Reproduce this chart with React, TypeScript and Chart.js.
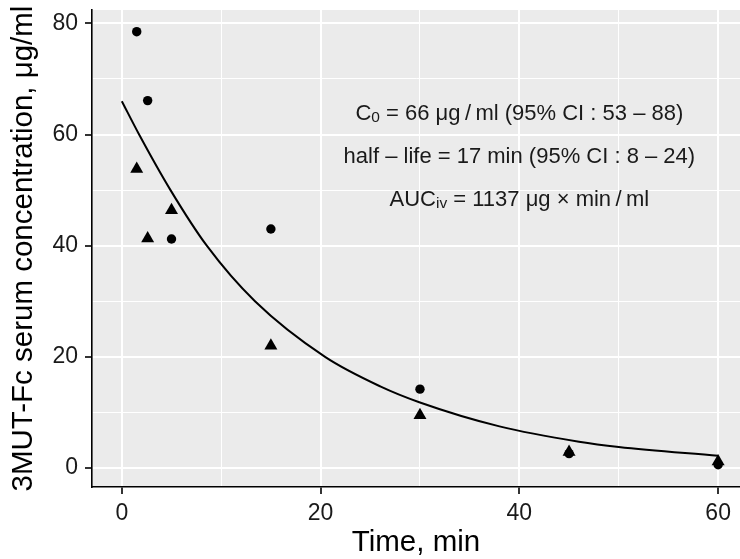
import React, { useEffect, useRef } from 'react';
import { Chart, registerables } from 'chart.js';

Chart.register(...registerables);

const FONT = '"Liberation Sans", Arial, Helvetica, sans-serif';

// Observed concentrations (two animals / series)
const circleTime = [1.5, 2.6, 5, 15, 30, 45, 60];
const circleConc = [78.5, 66.1, 41.2, 43.0, 14.2, 2.6, 0.6];
const triangleTime = [1.5, 2.6, 5, 15, 30, 45, 60];
const triangleConc = [53.8, 41.3, 46.4, 22.0, 9.5, 2.9, 1.2];

// Fitted curve
const fitTime = [0, 1.74, 4.9, 8.55, 13.4, 20.45, 26, 30, 38, 46, 50, 60];
const fitConc = [66, 60, 50, 40, 30, 20, 14.7, 11.8, 7.5, 4.75, 3.8, 2.2];

// Ticks
const xTicks = [0, 10, 20, 30, 40, 50, 60];
const xTickLabels = [0, 20, 40, 60];
const yTicks = [0, 10, 20, 30, 40, 50, 60, 70, 80];
const yTickLabels = [0, 20, 40, 60, 80];

// Annotation text (segments; sub = subscript)
const annotX = 40;
const annotY = [64, 56.3, 48.6];
const annotLines = [
  [{ t: 'C' }, { t: '0', sub: true }, { t: ' = 66 μg\u2009/\u2009ml (95% CI : 53 – 88)' }],
  [{ t: 'half – life = 17 min (95% CI : 8 – 24)' }],
  [{ t: 'AUC' }, { t: 'iv', sub: true }, { t: ' = 1137 μg × min\u2009/\u2009ml' }],
];

export default function App() {
  const ref = useRef<HTMLCanvasElement>(null);

  useEffect(() => {
    document.body.style.margin = '0';
    document.body.style.overflow = 'hidden';
    const canvas = ref.current!;

    const panelBg = {
      id: 'panelBg',
      beforeDraw(chart: any) {
        const { ctx, chartArea } = chart;
        const { left, top, right, bottom } = chartArea;
        ctx.save();
        ctx.fillStyle = '#EBEBEB';
        ctx.fillRect(left, top, right - left, bottom - top);
        ctx.restore();
      },
    };

    const annot = {
      id: 'annot',
      afterDatasetsDraw(chart: any) {
        const { ctx } = chart;
        const xs = chart.scales.x;
        const ys = chart.scales.y;
        const FS = 22;
        const SUB = 15.5;
        ctx.save();
        ctx.fillStyle = '#1a1a1a';
        ctx.textAlign = 'left';
        ctx.textBaseline = 'alphabetic';
        annotLines.forEach((segs: any[], i: number) => {
          const cx = xs.getPixelForValue(annotX);
          const cy = ys.getPixelForValue(annotY[i]);
          const baseline = cy + 0.358 * FS;
          let total = 0;
          const widths = segs.map((s) => {
            ctx.font = `${s.sub ? SUB : FS}px ${FONT}`;
            const w = ctx.measureText(s.t).width;
            total += w;
            return w;
          });
          let x = cx - total / 2;
          segs.forEach((s, j) => {
            ctx.font = `${s.sub ? SUB : FS}px ${FONT}`;
            ctx.fillText(s.t, x, baseline + (s.sub ? 2 : 0));
            x += widths[j];
          });
        });
        ctx.restore();
      },
    };

    const isMajorX = (v: number) => xTickLabels.includes(v);
    const isMajorY = (v: number) => yTickLabels.includes(v);

    const chart = new Chart(canvas, {
      type: 'scatter',
      data: {
        datasets: [
          {
            label: 'fit',
            data: fitTime.map((t, i) => ({ x: t, y: fitConc[i] })),
            showLine: true,
            borderColor: '#000',
            borderWidth: 2,
            pointRadius: 0,
            cubicInterpolationMode: 'monotone',
            fill: false,
          } as any,
          {
            label: 'circles',
            data: circleTime.map((t, i) => ({ x: t, y: circleConc[i] })),
            pointStyle: 'circle',
            pointRadius: 4.7,
            backgroundColor: '#000',
            borderColor: '#000',
            borderWidth: 0,
          },
          {
            label: 'triangles',
            data: triangleTime.map((t, i) => ({ x: t, y: triangleConc[i] })),
            pointStyle: 'triangle',
            pointRadius: 7.5,
            backgroundColor: '#000',
            borderColor: '#000',
            borderWidth: 0,
          },
        ],
      },
      options: {
        responsive: false,
        animation: false,
        events: [],
        layout: { autoPadding: false, padding: { top: 10, left: 0, right: 0, bottom: 0 } },
        plugins: {
          legend: { display: false },
          tooltip: { enabled: false },
        },
        scales: {
          x: {
            type: 'linear',
            min: -3,
            max: 62.2,
            afterBuildTicks: (s: any) => {
              s.ticks = xTicks.map((v) => ({ value: v }));
            },
            afterFit: (s: any) => {
              s.height = 72;
              s.paddingLeft = 0;
              s.paddingRight = 0;
              s.paddingTop = 0;
              s.paddingBottom = 0;
            },
            ticks: {
              autoSkip: false,
              maxRotation: 0,
              padding: 6,
              color: '#1a1a1a',
              font: { family: FONT, size: 23 },
              callback: (v: any) => (isMajorX(Number(v)) ? String(v) : ''),
            },
            grid: {
              color: '#FFFFFF',
              lineWidth: (c: any) => (c.tick && isMajorX(c.tick.value) ? 2 : 1),
              tickColor: (c: any) => (c.tick && isMajorX(c.tick.value) ? '#000' : 'rgba(0,0,0,0)'),
              tickLength: 7,
              tickWidth: 1.6,
            },
            border: { display: true, color: '#000', width: 1.6 },
            title: {
              display: true,
              text: 'Time, min',
              color: '#000',
              font: { family: FONT, size: 29.5, lineHeight: 1.1 },
              padding: { top: 0, bottom: 0 },
            },
          },
          y: {
            type: 'linear',
            min: -3.4,
            max: 82.4,
            afterBuildTicks: (s: any) => {
              s.ticks = yTicks.map((v) => ({ value: v }));
            },
            afterFit: (s: any) => {
              s.width = 92;
              s.paddingLeft = 0;
              s.paddingRight = 0;
              s.paddingTop = 0;
              s.paddingBottom = 0;
            },
            ticks: {
              autoSkip: false,
              padding: 7,
              color: '#1a1a1a',
              font: { family: FONT, size: 23 },
              callback: (v: any) => (isMajorY(Number(v)) ? String(v) : ''),
            },
            grid: {
              color: '#FFFFFF',
              lineWidth: (c: any) => (c.tick && isMajorY(c.tick.value) ? 2 : 1),
              tickColor: (c: any) => (c.tick && isMajorY(c.tick.value) ? '#000' : 'rgba(0,0,0,0)'),
              tickLength: 7,
              tickWidth: 1.6,
            },
            border: { display: true, color: '#000', width: 1.6 },
            title: {
              display: true,
              text: '3MUT-Fc serum concentration, μg/ml',
              color: '#000',
              font: { family: FONT, size: 29.5, lineHeight: 1.1 },
              padding: { top: 8, bottom: 0 },
            },
          },
        },
      },
      plugins: [panelBg, annot],
    });

    return () => chart.destroy();
  }, []);

  return (
    <div style={{ width: 740, height: 559, overflow: 'hidden' }}>
      <canvas ref={ref} width={740} height={559} style={{ display: 'block' }} />
    </div>
  );
}
